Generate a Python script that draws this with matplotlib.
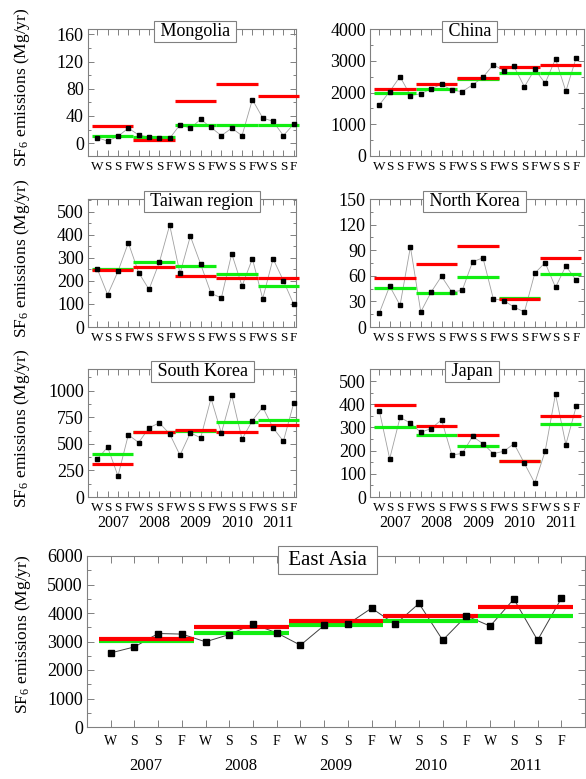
import matplotlib
matplotlib.use("Agg")
import matplotlib.pyplot as plt
import matplotlib.transforms as mtransforms
from matplotlib.ticker import MultipleLocator

plt.rcParams["font.family"] = ["Liberation Serif", "DejaVu Serif"]
plt.rcParams["mathtext.fontset"] = "custom"
plt.rcParams["mathtext.rm"] = "Liberation Serif"
plt.rcParams["mathtext.it"] = "Liberation Serif:italic"

# ── Data ──────────────────────────────────────────────────────────
SEASONS = ["W", "S", "S", "F"] * 5
YEARS = ["2007", "2008", "2009", "2010", "2011"]

mongolia       = [8, 3, 10, 22, 12, 9, 8, 7, 27, 22, 35, 23, 11, 22, 11, 64, 37, 32, 11, 28]
mongolia_red   = [24.5, 4, 62.5, 86.5, 70]
mongolia_green = [10.8, 8.3, 26.4, 26.4, 26.4]

china       = [1610, 2030, 2500, 1905, 1960, 2115, 2260, 2070, 2030, 2240,
               2480, 2875, 2690, 2820, 2180, 2730, 2290, 3060, 2040, 3100]
china_red   = [2115, 2280, 2470, 2800, 2860]
china_green = [2000, 2095, 2420, 2600, 2615]

taiwan       = [252, 140, 241, 365, 236, 163, 280, 442, 232, 394,
                272, 146, 126, 318, 178, 296, 123, 296, 201, 98]
taiwan_red   = [245, 261, 222, 212, 213]
taiwan_green = [252, 281, 264, 229, 178]

north_korea       = [16.4, 48, 25.4, 94, 17.6, 41, 59.4, 41, 43, 76.5,
                     81, 33, 31, 23.4, 17.6, 63, 75.4, 46.5, 71.5, 54.7]
north_korea_red   = [57.4, 74, 95, 32.4, 80.5]
north_korea_green = [45.7, 39.5, 58.2, 34.4, 61.7]

south_korea       = [358, 469, 198, 585, 513, 651, 698, 594, 393, 604,
                     557, 928, 601, 959, 544, 720, 846, 651, 525, 884]
south_korea_red   = [314, 613, 629, 616, 679]
south_korea_green = [403, 610, 619, 704, 726]

japan       = [372, 165, 343, 319, 279, 295, 333, 181, 188, 261,
               230, 187, 197, 230, 145, 60, 197, 444, 226, 391]
japan_red   = [397, 305, 269, 157, 349]
japan_green = [300, 269, 218, 157, 313]

east_asia       = [2600, 2810, 3280, 3260, 2990, 3245, 3610, 3305, 2870, 3565,
                   3610, 4170, 3600, 4335, 3045, 3900, 3540, 4490, 3045, 4510]
east_asia_red   = [3105, 3515, 3725, 3900, 4220]
east_asia_green = [3010, 3305, 3565, 3725, 3900]

RED   = "#ff0000"
GREEN = "#11ee11"
GREY  = "#808080"

FIG_W, FIG_H = 586, 779


def px_rect(x0, y0, x1, y1):
    return [x0 / FIG_W, 1 - y1 / FIG_H, (x1 - x0) / FIG_W, (y1 - y0) / FIG_H]


def style_axes(ax, major, minor, ylim, xlim, ytick_fs, xtick_fs, tick_len):
    ax.set_xlim(*xlim)
    ax.set_ylim(*ylim)
    ax.yaxis.set_major_locator(MultipleLocator(major))
    ax.yaxis.set_minor_locator(MultipleLocator(minor))
    x = list(range(1, 21))
    ax.set_xticks(x)
    ax.set_xticklabels(SEASONS)
    ax.tick_params(which="both", direction="in", top=True, right=True,
                   color=GREY, width=0.7)
    ax.tick_params(which="major", length=tick_len)
    ax.tick_params(which="minor", length=tick_len * 0.6)
    ax.tick_params(axis="y", labelsize=ytick_fs, pad=3)
    ax.tick_params(axis="x", labelsize=xtick_fs)
    for sp in ax.spines.values():
        sp.set_color(GREY)
        sp.set_linewidth(0.8)


def draw_series(ax, pts, red, green, line_col, line_w, ms, bar_w):
    x = list(range(1, 21))
    ax.plot(x, pts, color=line_col, lw=line_w, zorder=2)
    for i in range(5):
        ax.hlines(green[i], 4 * i + 0.5, 4 * i + 4.5, color=GREEN, lw=bar_w,
                  zorder=3, clip_on=False)
        ax.hlines(red[i], 4 * i + 0.5, 4 * i + 4.5, color=RED, lw=bar_w,
                  zorder=4, clip_on=False)
    ax.plot(x, pts, "s", color="black", ms=ms, zorder=5, clip_on=False)


def title_box(ax, name, tx, ty, fs, pad):
    ax.text(tx, ty, f" {name} ", transform=ax.transAxes, ha="center", va="center",
            fontsize=fs, zorder=10, clip_on=False,
            bbox=dict(boxstyle=f"square,pad={pad}", fc="white", ec=GREY, lw=0.8))


fig = plt.figure(figsize=(FIG_W / 100, FIG_H / 100), dpi=100)

YLABEL = r"SF$_6$ emissions (Mg/yr)"
LEFT_X  = (88, 296)
RIGHT_X = (370, 584)
ROWS_Y  = [(29, 156), (199, 327), (369, 497)]

panels = [
    ("Mongolia",      mongolia,    mongolia_red,    mongolia_green,    (-19, 168), 40, 20,   0, 0, 0.514),
    ("China",         china,       china_red,       china_green,       (0, 4000), 1000, 500, 0, 1, 0.465),
    ("Taiwan region", taiwan,      taiwan_red,      taiwan_green,      (0, 555), 100, 50,    1, 0, 0.548),
    ("North Korea",   north_korea, north_korea_red, north_korea_green, (0, 150), 30, 15,     1, 1, 0.488),
    ("South Korea",   south_korea, south_korea_red, south_korea_green, (0, 1205), 250, 125,  2, 0, 0.550),
    ("Japan",         japan,       japan_red,       japan_green,       (0, 552), 100, 50,    2, 1, 0.477),
]

for name, pts, red, green, ylim, major, minor, row, col, tx in panels:
    xs = LEFT_X if col == 0 else RIGHT_X
    y0, y1 = ROWS_Y[row]
    ax = fig.add_axes(px_rect(xs[0], y0, xs[1], y1))
    xlim = (0.1, 20.22) if col == 0 else (0.1, 20.75)
    style_axes(ax, major, minor, ylim, xlim, 13, 9.5, 4)
    draw_series(ax, pts, red, green, "#a0a0a0", 0.6, 3.4, 2.3)
    title_box(ax, name, tx, 0.982, 13, 0.1)
    if col == 0:
        ax.set_ylabel(YLABEL, fontsize=12.5)
        ax.yaxis.set_label_coords((32 - xs[0]) / (xs[1] - xs[0]), 0.54)
    if row == 2:
        trans = mtransforms.blended_transform_factory(ax.transData, ax.transAxes)
        for i, yr in enumerate(YEARS):
            ax.text(4 * i + 2.5, -0.2, yr, transform=trans, ha="center",
                    va="center", fontsize=11.5)

# ── East Asia (bottom, wide) ──────────────────────────────────────
ax = fig.add_axes(px_rect(87, 556, 585, 727))
style_axes(ax, 1000, 500, (0, 6000), (0, 21), 13, 10, 5)
ax.tick_params(axis="x", pad=6)
draw_series(ax, east_asia, east_asia_red, east_asia_green, "#404040", 0.7, 4.6, 3.0)
title_box(ax, "East Asia", 0.483, 0.976, 15, 0.22)
ax.set_ylabel(YLABEL, fontsize=12.5)
ax.yaxis.set_label_coords((33 - 87) / (585 - 87), 0.54)
trans = mtransforms.blended_transform_factory(ax.transData, ax.transAxes)
for i, yr in enumerate(YEARS):
    ax.text(4 * i + 2.5, -0.23, yr, transform=trans, ha="center", va="center",
            fontsize=12)

fig.savefig("out.png", dpi=100)
